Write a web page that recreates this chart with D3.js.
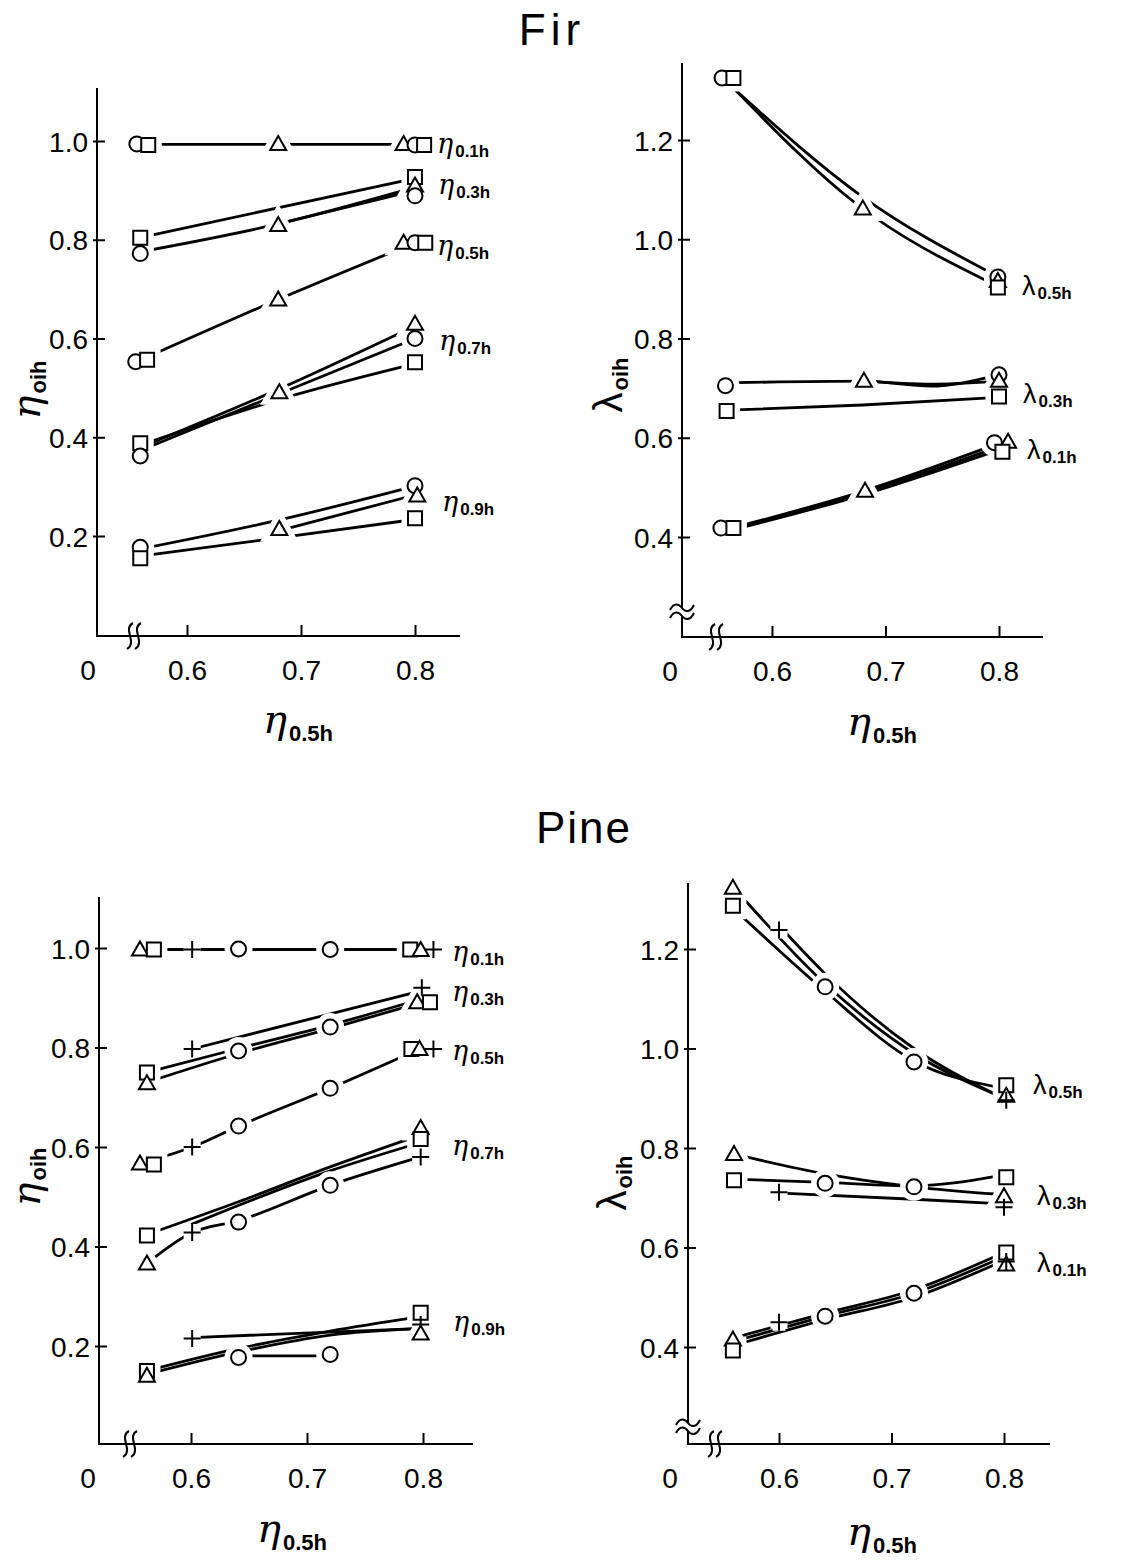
<!DOCTYPE html>
<html>
<head>
<meta charset="utf-8">
<script src="https://cdn.jsdelivr.net/npm/d3@7"></script>
<style>
  body { margin: 0; background: #fff; }
  text { font-family: "Liberation Sans", Arial, sans-serif; fill: #000; }
</style>
</head>
<body>
<svg id="chart" width="1144" height="1560"></svg>
<script>
// marker shapes: o = circle, t = triangle, s = square, p = plus
// each entry: [shape, eta_0.5h, value]

// ---- Fir, eta_oih ----
const firEtaMarkers = [
  ["o", 0.556, 0.994], ["s", 0.566, 0.992], ["t", 0.680, 0.994], ["t", 0.790, 0.994], ["o", 0.800, 0.992], ["s", 0.808, 0.992],
  ["s", 0.559, 0.804], ["o", 0.559, 0.772], ["t", 0.680, 0.830], ["s", 0.800, 0.927], ["t", 0.800, 0.910], ["o", 0.800, 0.889],
  ["o", 0.555, 0.553], ["s", 0.565, 0.557], ["t", 0.680, 0.679], ["t", 0.790, 0.794], ["o", 0.800, 0.794], ["s", 0.809, 0.794],
  ["s", 0.559, 0.388], ["o", 0.559, 0.362], ["t", 0.681, 0.491], ["t", 0.800, 0.630], ["o", 0.800, 0.600], ["s", 0.800, 0.552],
  ["o", 0.559, 0.177], ["s", 0.559, 0.155], ["t", 0.681, 0.214], ["o", 0.800, 0.302], ["t", 0.802, 0.282], ["s", 0.800, 0.236]
];
const firEtaLines = [
  [[0.566, 0.993], [0.800, 0.993]],
  [[0.566, 0.808], [0.795, 0.922]],
  [[0.560, 0.776], [0.680, 0.832], [0.795, 0.903]],
  [[0.680, 0.832], [0.795, 0.897]],
  [[0.556, 0.553], [0.680, 0.679], [0.800, 0.794]],
  [[0.562, 0.382], [0.680, 0.497], [0.795, 0.620]],
  [[0.562, 0.376], [0.680, 0.487], [0.795, 0.595]],
  [[0.562, 0.386], [0.680, 0.476], [0.795, 0.546]],
  [[0.562, 0.175], [0.680, 0.232], [0.795, 0.298]],
  [[0.686, 0.214], [0.795, 0.280]],
  [[0.562, 0.160], [0.680, 0.196], [0.795, 0.232]]
];
const firEtaLabels = ["0.1h", "0.3h", "0.5h", "0.7h", "0.9h"];

// ---- Fir, lambda_oih ----
const firLamMarkers = [
  ["o", 0.556, 1.325], ["s", 0.566, 1.325], ["t", 0.680, 1.062], ["o", 0.799, 0.924], ["t", 0.799, 0.916], ["s", 0.799, 0.903],
  ["o", 0.559, 0.705], ["s", 0.560, 0.654], ["t", 0.681, 0.715], ["o", 0.800, 0.727], ["t", 0.800, 0.715], ["s", 0.800, 0.683],
  ["o", 0.555, 0.418], ["s", 0.566, 0.418], ["t", 0.682, 0.493], ["o", 0.796, 0.590], ["t", 0.808, 0.592], ["s", 0.803, 0.572]
];
const firLamLines = [
  [[0.568, 1.300], [0.680, 1.085], [0.793, 0.932]],
  [[0.568, 1.300], [0.675, 1.070], [0.793, 0.912]],
  [[0.568, 0.711], [0.681, 0.714], [0.740, 0.704], [0.795, 0.724]],
  [[0.681, 0.714], [0.740, 0.708], [0.795, 0.713]],
  [[0.568, 0.656], [0.680, 0.666], [0.795, 0.681]],
  [[0.568, 0.420], [0.680, 0.492], [0.793, 0.583]],
  [[0.568, 0.418], [0.680, 0.488], [0.793, 0.576]],
  [[0.568, 0.416], [0.680, 0.485], [0.793, 0.570]]
];
const firLamLabels = ["0.5h", "0.3h", "0.1h"];

// ---- Pine, eta_oih ----
const pineEtaMarkers = [
  ["t", 0.556, 0.997], ["s", 0.568, 0.997], ["p", 0.601, 0.997], ["o", 0.641, 0.998], ["o", 0.720, 0.997], ["s", 0.789, 0.997], ["t", 0.798, 0.996], ["p", 0.809, 0.997],
  ["s", 0.562, 0.750], ["t", 0.562, 0.728], ["p", 0.601, 0.797], ["o", 0.641, 0.793], ["o", 0.720, 0.841], ["p", 0.799, 0.920], ["t", 0.795, 0.891], ["s", 0.806, 0.891],
  ["t", 0.556, 0.567], ["s", 0.568, 0.565], ["p", 0.601, 0.600], ["o", 0.641, 0.642], ["o", 0.720, 0.718], ["s", 0.790, 0.797], ["t", 0.797, 0.797], ["p", 0.809, 0.797],
  ["s", 0.562, 0.422], ["t", 0.562, 0.366], ["p", 0.601, 0.428], ["o", 0.641, 0.449], ["o", 0.720, 0.523], ["t", 0.798, 0.638], ["s", 0.798, 0.616], ["p", 0.798, 0.580],
  ["s", 0.562, 0.150], ["t", 0.562, 0.140], ["p", 0.601, 0.215], ["o", 0.641, 0.177], ["o", 0.720, 0.183], ["s", 0.798, 0.267], ["p", 0.798, 0.243], ["t", 0.798, 0.225]
];
const pineEtaLines = [
  [[0.556, 0.997], [0.809, 0.997]],
  [[0.601, 0.797], [0.795, 0.912]],
  [[0.562, 0.750], [0.641, 0.798], [0.720, 0.845], [0.795, 0.895]],
  [[0.562, 0.730], [0.641, 0.788], [0.720, 0.838], [0.795, 0.888]],
  [[0.556, 0.567], [0.601, 0.600], [0.641, 0.642], [0.720, 0.718], [0.797, 0.797]],
  [[0.562, 0.424], [0.641, 0.490], [0.720, 0.560], [0.795, 0.622]],
  [[0.601, 0.445], [0.720, 0.552], [0.795, 0.607]],
  [[0.562, 0.366], [0.601, 0.428], [0.641, 0.452], [0.720, 0.523], [0.795, 0.578]],
  [[0.601, 0.217], [0.795, 0.235]],
  [[0.562, 0.150], [0.641, 0.195], [0.720, 0.230], [0.795, 0.258]],
  [[0.562, 0.143], [0.641, 0.188], [0.720, 0.222], [0.795, 0.235]],
  [[0.641, 0.180], [0.720, 0.180]]
];
const pineEtaLabels = ["0.1h", "0.3h", "0.5h", "0.7h", "0.9h"];

// ---- Pine, lambda_oih ----
const pineLamMarkers = [
  ["t", 0.559, 1.323], ["s", 0.559, 1.287], ["p", 0.600, 1.238], ["o", 0.641, 1.124], ["o", 0.720, 0.973], ["s", 0.802, 0.926], ["t", 0.802, 0.905], ["p", 0.802, 0.896],
  ["t", 0.560, 0.788], ["s", 0.560, 0.735], ["p", 0.600, 0.711], ["o", 0.641, 0.729], ["o", 0.720, 0.722], ["s", 0.802, 0.741], ["t", 0.800, 0.703], ["p", 0.800, 0.681],
  ["t", 0.559, 0.415], ["s", 0.559, 0.393], ["p", 0.600, 0.450], ["o", 0.641, 0.462], ["o", 0.720, 0.508], ["s", 0.802, 0.590], ["t", 0.802, 0.566], ["p", 0.802, 0.572]
];
const pineLamLines = [
  [[0.563, 1.315], [0.641, 1.130], [0.720, 0.990], [0.795, 0.905]],
  [[0.565, 1.270], [0.641, 1.115], [0.720, 0.975], [0.795, 0.922]],
  [[0.607, 1.230], [0.641, 1.150], [0.720, 1.000], [0.795, 0.905]],
  [[0.565, 0.785], [0.641, 0.748], [0.720, 0.722], [0.795, 0.707]],
  [[0.565, 0.737], [0.641, 0.731], [0.720, 0.724], [0.795, 0.744]],
  [[0.607, 0.709], [0.720, 0.697], [0.795, 0.688]],
  [[0.567, 0.423], [0.641, 0.468], [0.720, 0.515], [0.795, 0.585]],
  [[0.567, 0.416], [0.641, 0.462], [0.720, 0.508], [0.795, 0.577]],
  [[0.567, 0.408], [0.641, 0.455], [0.720, 0.500], [0.795, 0.569]]
];
const pineLamLabels = ["0.5h", "0.3h", "0.1h"];

const xTicks = [0.6, 0.7, 0.8];
const etaTicks = [0.2, 0.4, 0.6, 0.8, 1.0];
const lamTicks = [0.4, 0.6, 0.8, 1.0, 1.2];

// ---- layout ----
const panels = [
  { markers: firEtaMarkers, lines: firEtaLines, labels: firEtaLabels, sym: "η", ticks: etaTicks,
    ox: 97, oy: 636, xEnd: 460, yTop: 88, x6: 187, x8: 415, yLo: 0.2, yLoPx: 536, yHi: 1.0, yHiPx: 141,
    zeroX: 88, xBreak: 134, yBreak: null,
    labelPos: [[437, 153], [438, 194], [437, 255], [439, 350], [442, 511]],
    xTitle: [263, 733], yTitle: [40, 390] },
  { markers: firLamMarkers, lines: firLamLines, labels: firLamLabels, sym: "λ", ticks: lamTicks,
    ox: 682, oy: 637, xEnd: 1043, yTop: 63, x6: 772, x8: 999, yLo: 0.4, yLoPx: 537, yHi: 1.2, yHiPx: 140,
    zeroX: 670, xBreak: 716, yBreak: 612,
    labelPos: [[1022, 295], [1023, 403], [1027, 459]],
    xTitle: [847, 735], yTitle: [622, 385] },
  { markers: pineEtaMarkers, lines: pineEtaLines, labels: pineEtaLabels, sym: "η", ticks: etaTicks,
    ox: 99, oy: 1444, xEnd: 473, yTop: 897, x6: 191, x8: 423, yLo: 0.2, yLoPx: 1346, yHi: 1.0, yHiPx: 948,
    zeroX: 88, xBreak: 130, yBreak: null,
    labelPos: [[452, 961], [452, 1001], [452, 1060], [452, 1155], [453, 1331]],
    xTitle: [257, 1542], yTitle: [40, 1177] },
  { markers: pineLamMarkers, lines: pineLamLines, labels: pineLamLabels, sym: "λ", ticks: lamTicks,
    ox: 688, oy: 1444, xEnd: 1050, yTop: 883, x6: 779, x8: 1004, yLo: 0.4, yLoPx: 1347, yHi: 1.2, yHiPx: 949,
    zeroX: 670, xBreak: 715, yBreak: 1427,
    labelPos: [[1033, 1094], [1037, 1205], [1037, 1272]],
    xTitle: [847, 1545], yTitle: [626, 1183] }
];

const svg = d3.select("#chart");

// greek symbols: eta drawn italic serif like the hand lettering, lambda upright
const symFont = s => s === "η" ? "DejaVu Serif, serif" : "Liberation Sans, Arial, sans-serif";
const symStyle = s => s === "η" ? "italic" : "normal";

// main titles
svg.append("text").attr("x", 552).attr("y", 45).attr("text-anchor", "middle")
  .attr("font-size", 44).attr("letter-spacing", 5).text("Fir");
svg.append("text").attr("x", 584).attr("y", 843).attr("text-anchor", "middle")
  .attr("font-size", 44).attr("letter-spacing", 2).text("Pine");

const shapePath = {
  o: "M7.5,0A7.5,7.5 0 1,1 -7.5,0A7.5,7.5 0 1,1 7.5,0Z",
  s: "M-7,-7H7V7H-7Z",
  t: "M0,-8L8,6H-8Z",
  p: "M-8.5,0H8.5M0,-8.5V8.5"
};

panels.forEach(p => {
  const x = d3.scaleLinear().domain([0.6, 0.8]).range([p.x6, p.x8]);
  const y = d3.scaleLinear().domain([p.yLo, p.yHi]).range([p.yLoPx, p.yHiPx]);
  const g = svg.append("g");

  // y axis ticks
  const ya = g.append("g").attr("transform", `translate(${p.ox},0)`)
    .call(d3.axisLeft(y).tickValues(p.ticks).tickFormat(d3.format(".1f"))
      .tickSizeInner(-8).tickSizeOuter(0).tickPadding(9));
  ya.select(".domain").remove();
  ya.selectAll(".tick line").attr("x1", -4).attr("stroke", "#000").attr("stroke-width", 2);
  ya.selectAll(".tick text").attr("font-size", 28).attr("font-family", "Liberation Sans, Arial, sans-serif").attr("dy", "0.36em");

  // x axis ticks
  const xa = g.append("g").attr("transform", `translate(0,${p.oy})`)
    .call(d3.axisBottom(x).tickValues(xTicks).tickFormat(d3.format(".1f"))
      .tickSizeInner(-11).tickSizeOuter(0).tickPadding(24));
  xa.select(".domain").remove();
  xa.selectAll(".tick line").attr("stroke", "#000").attr("stroke-width", 2);
  xa.selectAll(".tick text").attr("font-size", 28).attr("font-family", "Liberation Sans, Arial, sans-serif");

  // axis frame
  g.append("path").attr("d", `M${p.ox},${p.yTop}V${p.oy}H${p.xEnd}`)
    .attr("fill", "none").attr("stroke", "#000").attr("stroke-width", 2);
  g.append("text").attr("x", p.zeroX).attr("y", p.oy + 44).attr("text-anchor", "middle")
    .attr("font-size", 28).text("0");

  // axis breaks
  [-4, 4].forEach(dx => {
    const cx = p.xBreak + dx, cy = p.oy;
    g.append("path")
      .attr("d", `M${cx + 3},${cy - 13}C${cx - 8},${cy - 7} ${cx + 8},${cy + 6} ${cx - 3},${cy + 13}`)
      .attr("fill", "none").attr("stroke", "#000").attr("stroke-width", 2);
  });
  if (p.yBreak) {
    g.append("rect").attr("x", p.ox - 3).attr("y", p.yBreak - 4).attr("width", 6).attr("height", 8).attr("fill", "#fff");
    [-4, 4].forEach(dy => {
      const cx = p.ox, cy = p.yBreak + dy;
      g.append("path")
        .attr("d", `M${cx - 12},${cy + 2}C${cx - 8},${cy - 6} ${cx - 3},${cy - 4} ${cx},${cy}S${cx + 8},${cy + 5} ${cx + 12},${cy - 3}`)
        .attr("fill", "none").attr("stroke", "#000").attr("stroke-width", 2);
    });
  }

  // curves
  const line = d3.line().x(d => x(d[0])).y(d => y(d[1])).curve(d3.curveMonotoneX);
  g.selectAll(".curve").data(p.lines).enter().append("path")
    .attr("class", "curve").attr("d", line)
    .attr("fill", "none").attr("stroke", "#000").attr("stroke-width", 2.8).attr("stroke-linecap", "round");

  // marker halos (break the lines around the symbols)
  g.selectAll(".halo").data(p.markers).enter().append("path")
    .attr("class", "halo").attr("d", d => shapePath[d[0]])
    .attr("transform", d => `translate(${x(d[1])},${y(d[2])})`)
    .attr("fill", "#fff").attr("stroke", "#fff").attr("stroke-width", 13);
  g.selectAll(".mark").data(p.markers).enter().append("path")
    .attr("class", "mark").attr("d", d => shapePath[d[0]])
    .attr("transform", d => `translate(${x(d[1])},${y(d[2])})`)
    .attr("fill", "#fff").attr("stroke", "#000").attr("stroke-width", 2);

  // series labels
  p.labels.forEach((lab, i) => {
    const t = g.append("text").attr("x", p.labelPos[i][0]).attr("y", p.labelPos[i][1]);
    t.append("tspan").attr("font-size", 27).attr("font-family", symFont(p.sym))
      .attr("font-style", symStyle(p.sym)).text(p.sym);
    t.append("tspan").attr("font-size", 17).attr("font-weight", "bold").attr("dy", 4).attr("dx", 2).text(lab);
  });

  // axis titles
  const xt = g.append("text").attr("x", p.xTitle[0]).attr("y", p.xTitle[1]);
  xt.append("tspan").attr("font-size", 40).attr("font-family", symFont("η"))
    .attr("font-style", symStyle("η")).text("η");
  xt.append("tspan").attr("font-size", 22).attr("font-weight", "bold").attr("dy", 8).attr("dx", 2).text("0.5h");

  const yt = g.append("text").attr("text-anchor", "middle")
    .attr("transform", `translate(${p.yTitle[0]},${p.yTitle[1]}) rotate(-90)`);
  yt.append("tspan").attr("font-size", 40).attr("font-family", symFont(p.sym))
    .attr("font-style", symStyle(p.sym)).text(p.sym);
  yt.append("tspan").attr("font-size", 22).attr("font-weight", "bold").attr("dy", 6).attr("dx", 2).text("oih");
});
</script>
</body>
</html>
